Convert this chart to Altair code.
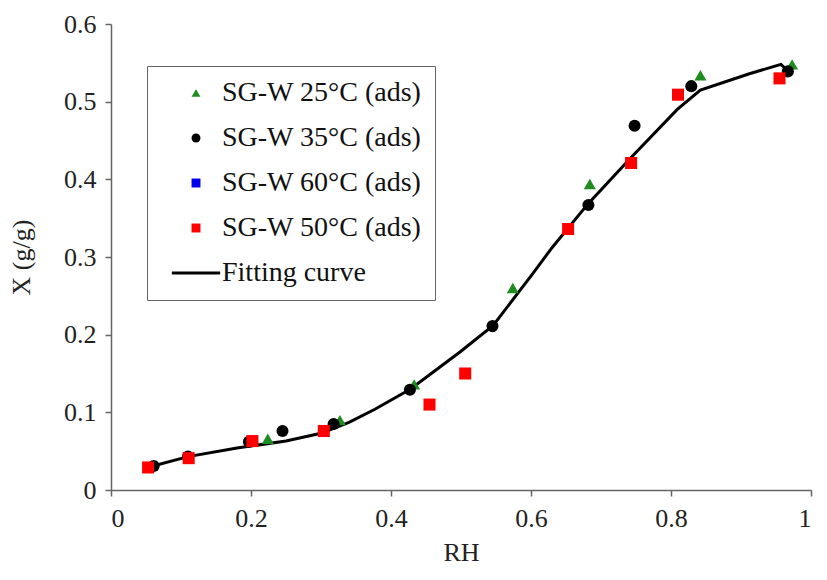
import altair as alt
import pandas as pd

series_names = ["SG-W 25°C (ads)", "SG-W 35°C (ads)", "SG-W 60°C (ads)", "SG-W 50°C (ads)", "Fitting curve"]

rh_25 = [0.224, 0.327, 0.433, 0.574, 0.684, 0.842, 0.973]
x_25 = [0.066, 0.090, 0.136, 0.260, 0.394, 0.534, 0.548]

rh_35 = [0.061, 0.110, 0.197, 0.245, 0.318, 0.427, 0.545, 0.682, 0.748, 0.829, 0.967]
x_35 = [0.031, 0.043, 0.062, 0.076, 0.085, 0.129, 0.211, 0.367, 0.469, 0.520, 0.539]

rh_50 = [0.053, 0.111, 0.202, 0.304, 0.455, 0.506, 0.653, 0.743, 0.810, 0.955]
x_50 = [0.029, 0.041, 0.063, 0.076, 0.110, 0.150, 0.336, 0.421, 0.509, 0.530]

rh_fit = [0.052, 0.110, 0.180, 0.250, 0.300, 0.340, 0.377, 0.428, 0.499, 0.546, 0.602, 0.630, 0.682, 0.743, 0.809, 0.842, 0.912, 0.957, 0.969]
x_fit = [0.029, 0.043, 0.054, 0.063, 0.073, 0.087, 0.104, 0.130, 0.178, 0.212, 0.278, 0.312, 0.369, 0.428, 0.490, 0.515, 0.536, 0.548, 0.538]

x_ticks = [0, 0.2, 0.4, 0.6, 0.8, 1.0]
y_ticks = [0, 0.1, 0.2, 0.3, 0.4, 0.5, 0.6]

rows = []
for name, rr, xx in [(series_names[0], rh_25, x_25), (series_names[1], rh_35, x_35), (series_names[3], rh_50, x_50)]:
    for r, v in zip(rr, xx):
        rows.append({"RH": r, "X": v, "series": name})
pts = pd.DataFrame(rows)
fit = pd.DataFrame({"RH": rh_fit, "X": x_fit})

FONT = "Liberation Serif"
line_path = "M-5.4,-0.36H5.4V0.36H-5.4Z"

xscale = alt.Scale(domain=[0, 1], nice=False)
yscale = alt.Scale(domain=[0, 0.6], nice=False)

xaxis = alt.Axis(values=x_ticks, format=".1~f", grid=False, title="RH", titlePadding=8, labelPadding=9)
yaxis = alt.Axis(values=y_ticks, format=".1~f", grid=False, title="X (g/g)", titlePadding=29, labelPadding=9)

line = alt.Chart(fit).mark_line(color="black", strokeWidth=3).encode(
    x=alt.X("RH:Q", scale=xscale, axis=xaxis),
    y=alt.Y("X:Q", scale=yscale, axis=yaxis),
    order="RH:Q",
)

legend = alt.Legend(
    title=None, orient="none", legendX=36, legendY=42,
    labelFont=FONT, labelFontSize=28, labelColor="#111", labelLimit=500,
    symbolSize=80, rowPadding=17, padding=13, labelOffset=12,
    symbolOffset=22,
    strokeColor="#666", fillColor="white",
)

points = alt.Chart(pts).mark_point(filled=True, size=145, opacity=1).encode(
    x=alt.X("RH:Q", scale=xscale),
    y=alt.Y("X:Q", scale=yscale),
    color=alt.Color("series:N", scale=alt.Scale(domain=series_names,
                    range=["#1e8c1e", "#000000", "#0000ee", "#ff0000", "#000000"]), legend=legend),
    shape=alt.Shape("series:N", scale=alt.Scale(domain=series_names,
                    range=["triangle-up", "circle", "square", "square", line_path]), legend=legend),
)

chart = alt.layer(line, points).properties(
    width=700, height=466,
    padding={"left": 103, "top": 16, "right": 8, "bottom": 76},
    autosize=alt.AutoSizeParams(type="none"),
).configure_view(stroke=None).configure_axis(
    labelFont=FONT, labelFontSize=26, labelColor="#222",
    titleFont=FONT, titleFontSize=26, titleFontWeight="normal", titleColor="#222",
    domainColor="#666", tickColor="#666", domainWidth=1.5, tickWidth=1.5, tickSize=6,
)

chart.save("out.html", embed_options={"renderer": "svg", "actions": False})
